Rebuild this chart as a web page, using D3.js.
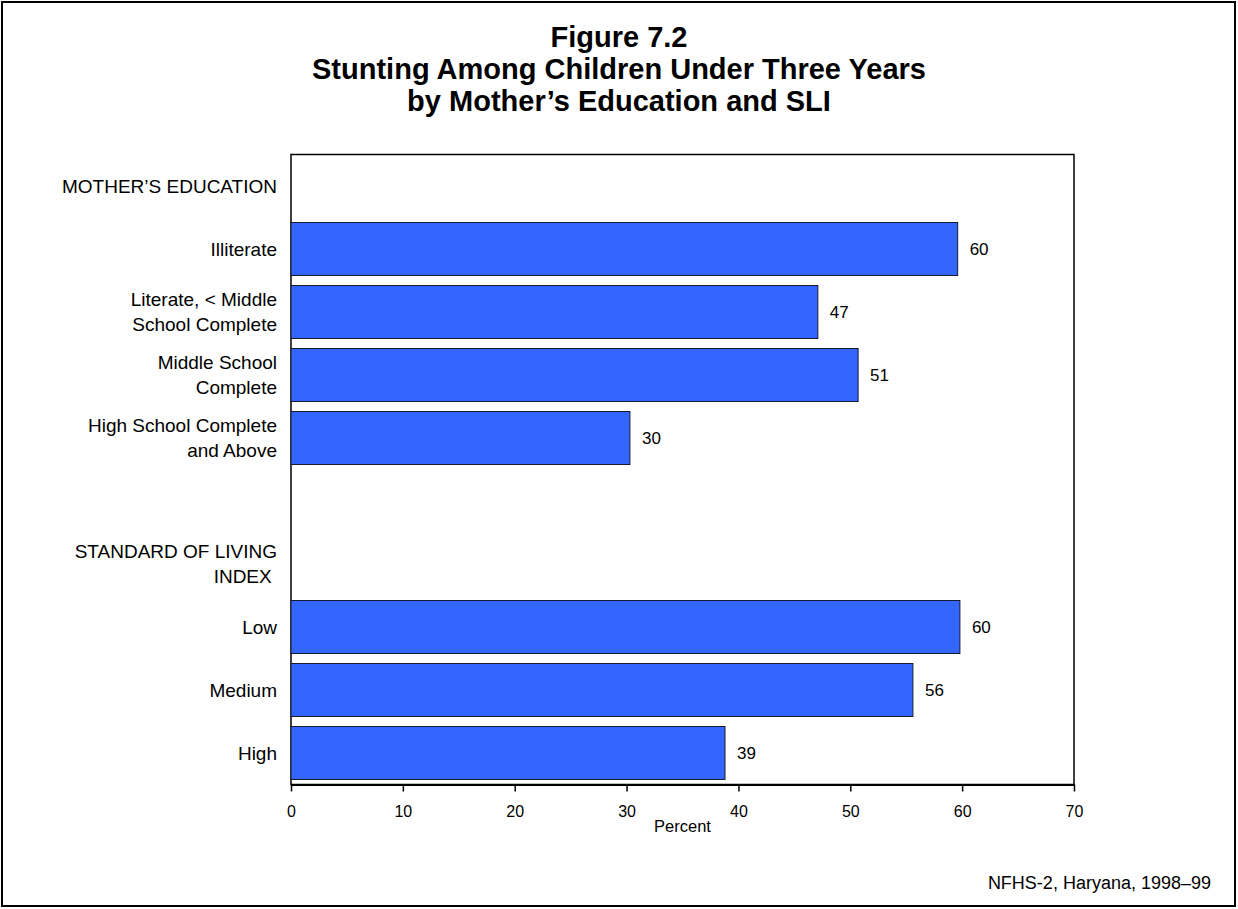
<!DOCTYPE html>
<html>
<head>
<meta charset="utf-8">
<script src="https://cdn.jsdelivr.net/npm/d3@7"></script>
<style>
  body { margin: 0; background: #fff; }
  svg { display: block; font-family: "Liberation Sans", Arial, sans-serif; }
</style>
</head>
<body>
<svg width="1238" height="909"></svg>
<script>
// rows of the chart, header rows and the spacer have no value
var rowLabels = [
    "MOTHER\u2019S EDUCATION",
    "Illiterate",
    "Literate, < Middle\nSchool Complete",
    "Middle School\nComplete",
    "High School Complete\nand Above",
    "",
    "STANDARD OF LIVING\nINDEX\u00a0",
    "Low",
    "Medium",
    "High"
];
var values = [null, 59.6, 47.1, 50.7, 30.3, null, null, 59.8, 55.6, 38.8];
var valueLabels = [null, "60", "47", "51", "30", null, null, "60", "56", "39"];
var ticks = [0, 10, 20, 30, 40, 50, 60, 70];
var titleLines = [
    "Figure 7.2",
    "Stunting Among Children Under Three Years",
    "by Mother\u2019s Education and SLI"
];

var svg = d3.select("svg"),
    width = +svg.attr("width"),
    height = +svg.attr("height");

var plotL = 291, plotR = 1074, plotT = 154.5, plotB = 784.5;

var x = d3.scaleLinear().domain([0, 70]).range([plotL, plotR]);
var y = d3.scaleBand()
    .domain(d3.range(rowLabels.length))
    .range([plotT, plotB])
    .paddingInner(0.159)
    .paddingOuter(0.0795);

// outer frame
svg.append("rect")
    .attr("x", 2).attr("y", 2)
    .attr("width", 1233).attr("height", 904)
    .attr("fill", "none")
    .attr("stroke", "#000")
    .attr("stroke-width", 2);

// title
svg.append("g").selectAll("text")
    .data(titleLines)
    .enter().append("text")
    .attr("x", 619)
    .attr("y", function (d, i) { return 47 + i * 32; })
    .attr("text-anchor", "middle")
    .attr("font-size", 29)
    .attr("font-weight", "bold")
    .text(function (d) { return d; });

// plot frame
svg.append("rect")
    .attr("x", plotL).attr("y", plotT)
    .attr("width", plotR - plotL).attr("height", plotB - plotT)
    .attr("fill", "none")
    .attr("stroke", "#000")
    .attr("stroke-width", 1.5);

// bars
var rows = d3.range(rowLabels.length).filter(function (i) { return values[i] != null; });

svg.append("g").selectAll("rect")
    .data(rows)
    .enter().append("rect")
    .attr("x", x(0))
    .attr("y", function (i) { return y(i); })
    .attr("width", function (i) { return x(values[i]) - x(0); })
    .attr("height", y.bandwidth())
    .attr("fill", "#3366ff")
    .attr("stroke", "#1a1a2e")
    .attr("stroke-width", 1);

svg.append("g").selectAll("text")
    .data(rows)
    .enter().append("text")
    .attr("x", function (i) { return x(values[i]) + 12; })
    .attr("y", function (i) { return y(i) + y.bandwidth() / 2 + 6; })
    .attr("font-size", 17)
    .text(function (i) { return valueLabels[i]; });

// row labels, right aligned, possibly on two lines
var lab = svg.append("g").selectAll("text")
    .data(d3.range(rowLabels.length))
    .enter().append("text")
    .attr("x", 277)
    .attr("text-anchor", "end")
    .attr("font-size", 19)
    .attr("y", function (i) {
        var n = rowLabels[i].split("\n").length;
        return y(i) + y.bandwidth() / 2 + 6.5 - (n - 1) * 12.25;
    });

lab.selectAll("tspan")
    .data(function (i) { return rowLabels[i].split("\n"); })
    .enter().append("tspan")
    .attr("x", 277)
    .attr("dy", function (d, j) { return j ? 24.5 : 0; })
    .text(function (d) { return d; });

// x axis
var axis = svg.append("g")
    .attr("transform", "translate(0," + plotB + ")")
    .call(d3.axisBottom(x).tickValues(ticks).tickSize(7).tickSizeOuter(0).tickPadding(14));

axis.select(".domain").attr("stroke", "#000").attr("stroke-width", 2);
axis.selectAll(".tick line").attr("stroke", "#000").attr("stroke-width", 1.5);
axis.selectAll(".tick text")
    .attr("font-family", "Liberation Sans, Arial, sans-serif")
    .attr("font-size", 16)
    .attr("fill", "#000");

svg.append("text")
    .attr("x", (plotL + plotR) / 2)
    .attr("y", 832)
    .attr("text-anchor", "middle")
    .attr("font-size", 16.5)
    .text("Percent");

// source note
svg.append("text")
    .attr("x", 1211)
    .attr("y", 889)
    .attr("text-anchor", "end")
    .attr("font-size", 18)
    .text("NFHS-2, Haryana, 1998\u201399");
</script>
</body>
</html>
